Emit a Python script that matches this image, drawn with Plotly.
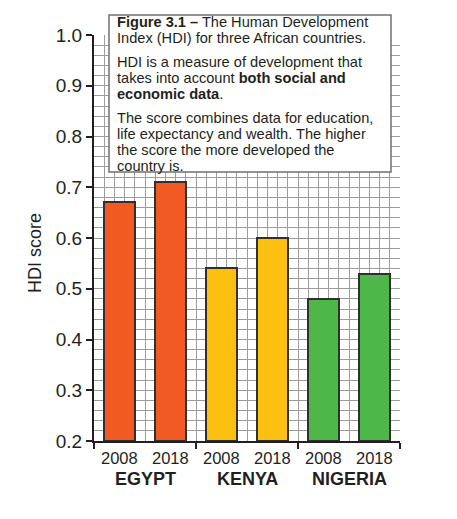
import plotly.graph_objects as go

countries = ["EGYPT", "KENYA", "NIGERIA"]
years = ["2008", "2018"]
hdi = {
    "EGYPT": [0.67, 0.71],
    "KENYA": [0.54, 0.60],
    "NIGERIA": [0.48, 0.53],
}
colors = {"EGYPT": "#F15A22", "KENYA": "#FDC010", "NIGERIA": "#4DB848"}
y_ticks = [0.2, 0.3, 0.4, 0.5, 0.6, 0.7, 0.8, 0.9, 1.0]

box_lines = [
    "<b>Figure 3.1 –</b> The Human Development",
    "Index (HDI) for three African countries.",
    "HDI is a measure of development that",
    "takes into account <b>both social and</b>",
    "<b>economic data</b>.",
    "The score combines data for education,",
    "life expectancy and wealth. The higher",
    "the score the more developed the",
    "country is.",
]
box_line_py = [22, 38, 62, 78, 94, 118, 134, 150, 166]

OFF = 8  # page body margin
W, H = 457 - OFF, 519 - OFF
L, T = 94 - OFF, 35 - OFF
PW, PH = 306, 406
R, B = W - L - PW, H - T - PH
FONT = "Arial, Liberation Sans, sans-serif"
TXT = "#231f20"


def px_x(px):
    return (px - OFF - L) / PW


def px_y(py):
    return (T + PH - (py - OFF)) / PH


fig = go.Figure()
xs, ys, cs, labels = [], [], [], []
for ci, c in enumerate(countries):
    for yi, yr in enumerate(years):
        xs.append(ci * 2 + yi + 0.5)
        ys.append(hdi[c][yi])
        cs.append(colors[c])
        labels.append(yr)

fig.add_trace(go.Bar(
    x=xs, y=[v - 0.2 for v in ys], base=0.2,
    marker=dict(color=cs, line=dict(color="#303030", width=2)),
    width=0.6, hoverinfo="skip", showlegend=False,
))

annotations = []
for x, lab in zip(xs, labels):
    annotations.append(dict(x=x, y=px_y(458), xref="x", yref="paper", text=lab,
                            showarrow=False, font=dict(family=FONT, size=16.5, color=TXT),
                            xanchor="center", yanchor="middle"))
for ci, c in enumerate(countries):
    annotations.append(dict(x=ci * 2 + 1, y=px_y(479), xref="x", yref="paper",
                            text=f"<b>{c}</b>", showarrow=False,
                            font=dict(family=FONT, size=18, color=TXT),
                            xanchor="center", yanchor="middle"))
annotations.append(dict(x=px_x(35), y=px_y(253), xref="paper", yref="paper",
                        text="HDI score", textangle=-90, showarrow=False,
                        font=dict(family=FONT, size=18, color=TXT),
                        xanchor="center", yanchor="middle"))
for t, py in zip(box_lines, box_line_py):
    annotations.append(dict(x=px_x(115), y=px_y(py), xref="paper", yref="paper",
                            text=t, showarrow=False,
                            font=dict(family=FONT, size=14.6, color=TXT),
                            xanchor="left", yanchor="middle"))

shapes = [dict(type="rect", xref="paper", yref="paper",
               x0=px_x(109), x1=px_x(391), y0=px_y(172), y1=px_y(15),
               fillcolor="white", line=dict(color="#707070", width=1.5),
               layer="above")]

grid_col = "#9c9c9c"
fig.update_layout(
    width=W, height=H, margin=dict(l=L, r=R, t=T, b=B),
    paper_bgcolor="white", plot_bgcolor="white",
    font=dict(family=FONT, color=TXT),
    bargap=0,
    xaxis=dict(range=[0, 6], tickmode="array", tickvals=[0, 2, 4, 6], ticktext=["", "", "", ""],
               ticks="outside", ticklen=6, tickwidth=2, tickcolor="#231f20",
               showline=True, linecolor="#231f20", linewidth=2,
               showgrid=True, gridcolor=grid_col, gridwidth=1, zeroline=False,
               minor=dict(dtick=0.2, tick0=0, showgrid=True, gridcolor=grid_col, gridwidth=1, ticks=""),
               fixedrange=True),
    yaxis=dict(range=[0.2, 1.0], tickmode="array", tickvals=y_ticks,
               ticktext=[f"{v:.1f}" for v in y_ticks],
               tickfont=dict(family=FONT, size=19, color=TXT),
               ticks="outside", ticklen=6, tickwidth=2, tickcolor="#231f20",
               showline=True, linecolor="#231f20", linewidth=2,
               showgrid=True, gridcolor=grid_col, gridwidth=1, zeroline=False,
               minor=dict(dtick=0.02, tick0=0.2, showgrid=True, gridcolor=grid_col, gridwidth=1, ticks=""),
               fixedrange=True),
    annotations=annotations,
    shapes=shapes,
)

fig.write_html("out.html", config={"displayModeBar": False})
